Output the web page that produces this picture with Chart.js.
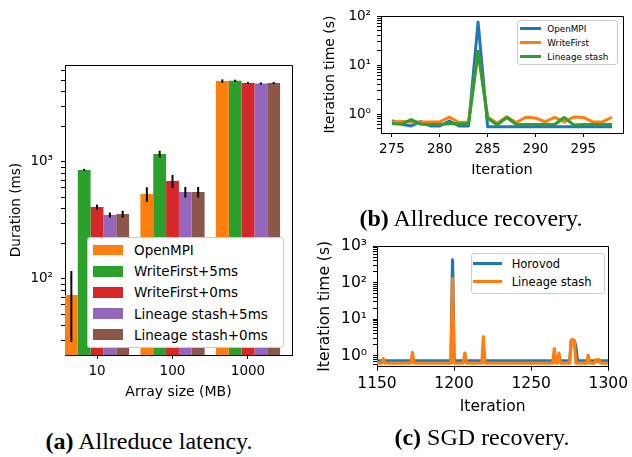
<!DOCTYPE html>
<html>
<head>
<meta charset="utf-8">
<script src="https://cdn.jsdelivr.net/npm/chart.js@4.4.1/dist/chart.umd.min.js"></script>
<style>
  body { margin: 0; background: #fff; }
  #page { position: relative; width: 632px; height: 457px; overflow: hidden; font-family: "DejaVu Sans", sans-serif; color: #000; }
  canvas { position: absolute; }
  #latency { left: 0; top: 0; }
  #recovery { left: 310px; top: 0; }
  #sgd { left: 310px; top: 230px; }
  .legend { position: absolute; background: #fff; border: 1px solid #ccc; border-radius: 3px; box-sizing: border-box; }
  .legend .row { display: flex; align-items: center; white-space: nowrap; }
  #legendA { left: 87px; top: 237px; width: 197px; height: 111px; padding: 1.4px 0 0 5px; font-size: 13.5px; }
  #legendA .row { height: 21.2px; }
  #legendA .key { width: 30px; height: 10.7px; margin-right: 11px; }
  #legendB { left: 517px; top: 20px; width: 101px; height: 45px; padding: 1.1px 0 0 1.6px; font-size: 8.8px; }
  #legendB .row { height: 13.8px; }
  #legendB .key { width: 21.4px; height: 3px; margin-right: 6.3px; }
  #legendC { left: 471px; top: 253px; width: 134px; height: 41px; padding: 0.4px 0 0 1.3px; font-size: 11.5px; }
  #legendC .row { height: 18.4px; }
  #legendC .key { width: 28.4px; height: 3px; margin-right: 10px; }
  .caption { position: absolute; font-family: "Liberation Serif", serif; font-size: 24px; line-height: 24px; white-space: nowrap; transform: translateX(-50%); }
</style>
</head>
<body>
<div id="page">
  <canvas id="latency" width="310" height="420"></canvas>
  <canvas id="recovery" width="322" height="200"></canvas>
  <canvas id="sgd" width="322" height="200"></canvas>
  <div id="legendA" class="legend"></div>
  <div id="legendB" class="legend"></div>
  <div id="legendC" class="legend"></div>
  <div class="caption" style="left:149px;top:429px"><b>(a)</b> Allreduce latency.</div>
  <div class="caption" style="left:471px;top:206px"><b>(b)</b> Allreduce recovery.</div>
  <div class="caption" style="left:482px;top:425px"><b>(c)</b> SGD recovery.</div>
</div>
<script>
// (a) allreduce latency, ms, one value per array size
const arraySizes = ["10", "100", "1000"];
const latencyLabels = ["OpenMPI", "WriteFirst+5ms", "WriteFirst+0ms", "Lineage stash+5ms", "Lineage stash+0ms"];
const openmpiMs = [73, 532, 4920];
const openmpiErr = [44, 76, 160];
const writeFirst5Ms = [855, 1170, 4950];
const writeFirst5Err = [17, 76, 100];
const writeFirst0Ms = [412, 689, 4730];
const writeFirst0Err = [20, 86, 90];
const lineage5Ms = [353, 554, 4680];
const lineage5Err = [17, 57, 100];
const lineage0Ms = [359, 554, 4730];
const lineage0Err = [24, 57, 100];
const latencyTicks = [30, 40, 50, 60, 70, 80, 90, 100, 200, 300, 400, 500, 600, 700, 800, 900, 1000, 2000, 3000, 4000, 5000, 6000];

// (b) allreduce recovery, seconds per iteration
const allreduceIter = [275, 276, 277, 278, 279, 280, 281, 282, 283, 284, 285, 286, 287, 288, 289, 290, 291, 292, 293, 294, 295, 296, 297, 298];
const recoveryLabels = ["OpenMPI", "WriteFirst", "Lineage stash"];
const openmpiIter = [0.73, 0.62, 0.57, 0.7, 0.57, 0.57, 0.72, 0.57, 0.57, 75, 0.55, 0.55, 0.55, 0.55, 0.55, 0.55, 0.55, 0.55, 0.55, 0.55, 0.55, 0.55, 0.55, 0.55];
const writeFirstIter = [0.69, 0.7, 0.69, 0.69, 0.69, 0.69, 0.87, 0.67, 0.69, 18, 0.87, 0.65, 0.88, 0.67, 0.86, 0.83, 0.69, 0.86, 0.69, 0.87, 0.85, 0.69, 0.69, 0.86];
const lineageIter = [0.64, 0.62, 0.77, 0.62, 0.61, 0.61, 0.63, 0.63, 0.63, 19, 0.82, 0.6, 0.85, 0.61, 0.61, 0.61, 0.61, 0.61, 0.85, 0.6, 0.61, 0.61, 0.61, 0.61];
const allreduceTicks = [275, 280, 285, 290, 295];
const allreduceYTicks = [0.5, 0.6, 0.7, 0.8, 0.9, 1, 2, 3, 4, 5, 6, 7, 8, 9, 10, 20, 30, 40, 50, 60, 70, 80, 90, 100];

// (c) SGD recovery, [iteration, seconds]
const sgdLabels = ["Horovod", "Lineage stash"];
const horovodPoints = [[1150, 0.74], [1198, 0.74], [1199, 420], [1200, 0.74], [1275, 0.74], [1276, 2.6], [1277, 2.7], [1278, 2.6], [1279, 1.8], [1280, 0.74], [1300, 0.74]];
const lineagePoints = [[1150, 0.64], [1153, 0.64], [1154, 0.85], [1155, 0.64], [1172, 0.64], [1173, 1.25], [1174, 0.64],
  [1198, 0.64], [1199, 130], [1200, 0.64], [1206, 0.64], [1207, 1.2], [1208, 0.64], [1218, 0.64], [1219, 3.4], [1220, 0.64],
  [1264, 0.64], [1265, 1.6], [1266, 0.64], [1267, 0.64], [1268, 1.2], [1269, 0.64], [1275, 0.64], [1276, 2.7], [1277, 2.8],
  [1278, 2.5], [1279, 0.64], [1286, 0.64], [1287, 1.05], [1288, 0.64], [1291, 0.64], [1292, 0.8], [1293, 0.7], [1294, 0.8],
  [1295, 0.64], [1300, 0.64]];
const sgdTicks = [1150, 1200, 1250, 1300];
const sgdYTicks = [0.6, 0.7, 0.8, 0.9, 1, 2, 3, 4, 5, 6, 7, 8, 9, 10, 20, 30, 40, 50, 60, 70, 80, 90, 100, 200, 300, 400, 500, 600, 700, 800, 900, 1000];

const blue = "#1f77b4", orange = "#ff7f0e", green = "#2ca02c", red = "#d62728", purple = "#9467bd", brown = "#8c564b";

Chart.defaults.font.family = "'DejaVu Sans', sans-serif";
Chart.defaults.color = "#000";
Chart.defaults.animation = false;

const sup = { "0": "\u2070", "1": "\u00b9", "2": "\u00b2", "3": "\u00b3" };
const powerLabel = (v) => {
  const e = Math.log10(v);
  return Math.abs(e - Math.round(e)) < 1e-9 ? "10" + sup[Math.round(e)] : "";
};
const fixTicks = (list) => (s) => { s.ticks = list.map((v) => ({ value: v })); };
const align = (p) => Math.round(p - 0.5) + 0.5;

// top and right spines, matplotlib style box
const frame = {
  id: "frame",
  afterDraw(chart) {
    const { ctx, chartArea: a } = chart;
    ctx.save();
    ctx.strokeStyle = "#000";
    ctx.lineWidth = 1;
    ctx.beginPath();
    ctx.moveTo(align(a.left), align(a.top));
    ctx.lineTo(align(a.right), align(a.top));
    ctx.lineTo(align(a.right), align(a.bottom));
    ctx.stroke();
    ctx.restore();
  }
};

const errorBars = {
  id: "errorBars",
  afterDatasetsDraw(chart) {
    const ctx = chart.ctx, y = chart.scales.y;
    ctx.save();
    ctx.strokeStyle = "#000";
    ctx.lineWidth = 2;
    chart.data.datasets.forEach((ds, i) => {
      chart.getDatasetMeta(i).data.forEach((bar, j) => {
        const v = ds.data[j].y, e = ds.errors[j];
        ctx.beginPath();
        ctx.moveTo(bar.x, y.getPixelForValue(v - e));
        ctx.lineTo(bar.x, y.getPixelForValue(v + e));
        ctx.stroke();
      });
    });
    ctx.restore();
  }
};

const axisStyle = (size) => ({
  grid: { offset: false, drawOnChartArea: false, tickLength: 4, tickColor: "#000", tickWidth: 1 },
  border: { color: "#000", width: 1 },
  ticks: { autoSkip: false, maxRotation: 0, font: { size: size } }
});

const buildLegend = (id, labels, colors) => {
  const box = document.getElementById(id);
  labels.forEach((label, i) => {
    const row = document.createElement("div");
    row.className = "row";
    const key = document.createElement("span");
    key.className = "key";
    key.style.background = colors[i];
    const text = document.createElement("span");
    text.textContent = label;
    row.append(key, text);
    box.append(row);
  });
};

// (a)
const latencyValues = [openmpiMs, writeFirst5Ms, writeFirst0Ms, lineage5Ms, lineage0Ms];
const latencyErrors = [openmpiErr, writeFirst5Err, writeFirst0Err, lineage5Err, lineage0Err];
const latencyColors = [orange, green, red, purple, brown];
const ax = axisStyle(13.5), ay = axisStyle(13.5);
new Chart(document.getElementById("latency"), {
  type: "bar",
  data: {
    datasets: latencyLabels.map((label, k) => ({
      label: label,
      data: latencyValues[k].map((v, i) => ({ x: i, y: v })),
      errors: latencyErrors[k],
      backgroundColor: latencyColors[k],
      borderWidth: 0,
      categoryPercentage: 0.85,
      barPercentage: 1
    }))
  },
  options: {
    responsive: false,
    devicePixelRatio: 1,
    layout: { padding: { left: 0, top: 65, right: 18, bottom: 0 } },
    plugins: { legend: { display: false }, tooltip: { enabled: false } },
    scales: {
      x: {
        ...ax, type: "linear", min: -0.424, max: 2.583, offset: false,
        afterBuildTicks: fixTicks([0, 1, 2]),
        afterFit: (s) => { s.height = 65; },
        ticks: { ...ax.ticks, padding: 4, callback: (v) => arraySizes[v] },
        title: { display: true, text: "Array size (MB)", font: { size: 14 }, padding: { bottom: 19.6 } }
      },
      y: {
        ...ay, type: "logarithmic", min: 22.4, max: 6745,
        afterBuildTicks: fixTicks(latencyTicks),
        afterFit: (s) => { s.width = 65; },
        ticks: { ...ay.ticks, padding: 8, callback: powerLabel },
        title: { display: true, text: "Duration (ms)", font: { size: 13.6 }, padding: { top: 8.5 } }
      }
    }
  },
  plugins: [errorBars, frame]
});
buildLegend("legendA", latencyLabels, latencyColors);

// (b)
const bx = axisStyle(13.5), by = axisStyle(13.5);
const recoveryValues = [openmpiIter, writeFirstIter, lineageIter];
const recoveryColors = [blue, orange, green];
new Chart(document.getElementById("recovery"), {
  type: "line",
  data: {
    labels: allreduceIter,
    datasets: recoveryLabels.map((label, k) => ({
      label: label,
      data: recoveryValues[k],
      borderColor: recoveryColors[k],
      borderWidth: 3,
      borderJoinStyle: "round",
      pointRadius: 0,
      tension: 0,
      order: recoveryLabels.length - k
    }))
  },
  options: {
    responsive: false,
    devicePixelRatio: 1,
    layout: { padding: { left: 0, top: 16, right: 9, bottom: 0 } },
    plugins: { legend: { display: false }, tooltip: { enabled: false } },
    scales: {
      x: {
        ...bx, type: "linear", min: 273.85, max: 299.15,
        afterBuildTicks: fixTicks(allreduceTicks),
        afterFit: (s) => { s.height = 67; },
        ticks: { ...bx.ticks, padding: 4, callback: (v) => String(v) },
        title: { display: true, text: "Iteration", font: { size: 14.5 }, padding: { bottom: 21 } }
      },
      y: {
        ...by, type: "logarithmic", min: 0.41, max: 100,
        afterBuildTicks: fixTicks(allreduceYTicks),
        afterFit: (s) => { s.width = 71; },
        ticks: { ...by.ticks, padding: 6, callback: powerLabel },
        title: { display: true, text: "Iteration time (s)", font: { size: 14 }, padding: { top: 12 } }
      }
    }
  },
  plugins: [frame]
});
buildLegend("legendB", recoveryLabels, recoveryColors);

// (c)
const cx = axisStyle(15.5), cy = axisStyle(15.5);
const sgdPoints = [horovodPoints, lineagePoints];
const sgdColors = [blue, orange];
new Chart(document.getElementById("sgd"), {
  type: "line",
  data: {
    datasets: sgdLabels.map((label, k) => ({
      label: label,
      data: sgdPoints[k].map((p) => ({ x: p[0], y: p[1] })),
      borderColor: sgdColors[k],
      borderWidth: 3.2,
      borderJoinStyle: "round",
      pointRadius: 0,
      tension: 0,
      order: sgdLabels.length - k
    }))
  },
  options: {
    responsive: false,
    devicePixelRatio: 1,
    layout: { padding: { left: 0, top: 16, right: 20, bottom: 0 } },
    plugins: { legend: { display: false }, tooltip: { enabled: false } },
    scales: {
      x: {
        ...cx, type: "linear", min: 1150, max: 1300,
        afterBuildTicks: fixTicks(sgdTicks),
        afterFit: (s) => { s.height = 63.3; },
        ticks: { ...cx.ticks, padding: 4, callback: (v) => String(v) },
        title: { display: true, text: "Iteration", font: { size: 15.5 }, padding: { bottom: 14 } }
      },
      y: {
        ...cy, type: "logarithmic", min: 0.51, max: 1000,
        afterBuildTicks: fixTicks(sgdYTicks),
        afterFit: (s) => { s.width = 67; },
        ticks: { ...cy.ticks, padding: 6, callback: powerLabel },
        title: { display: true, text: "Iteration time (s)", font: { size: 15.5 }, padding: { top: 5.7 } }
      }
    }
  },
  plugins: [frame]
});
buildLegend("legendC", sgdLabels, sgdColors);
</script>
</body>
</html>
